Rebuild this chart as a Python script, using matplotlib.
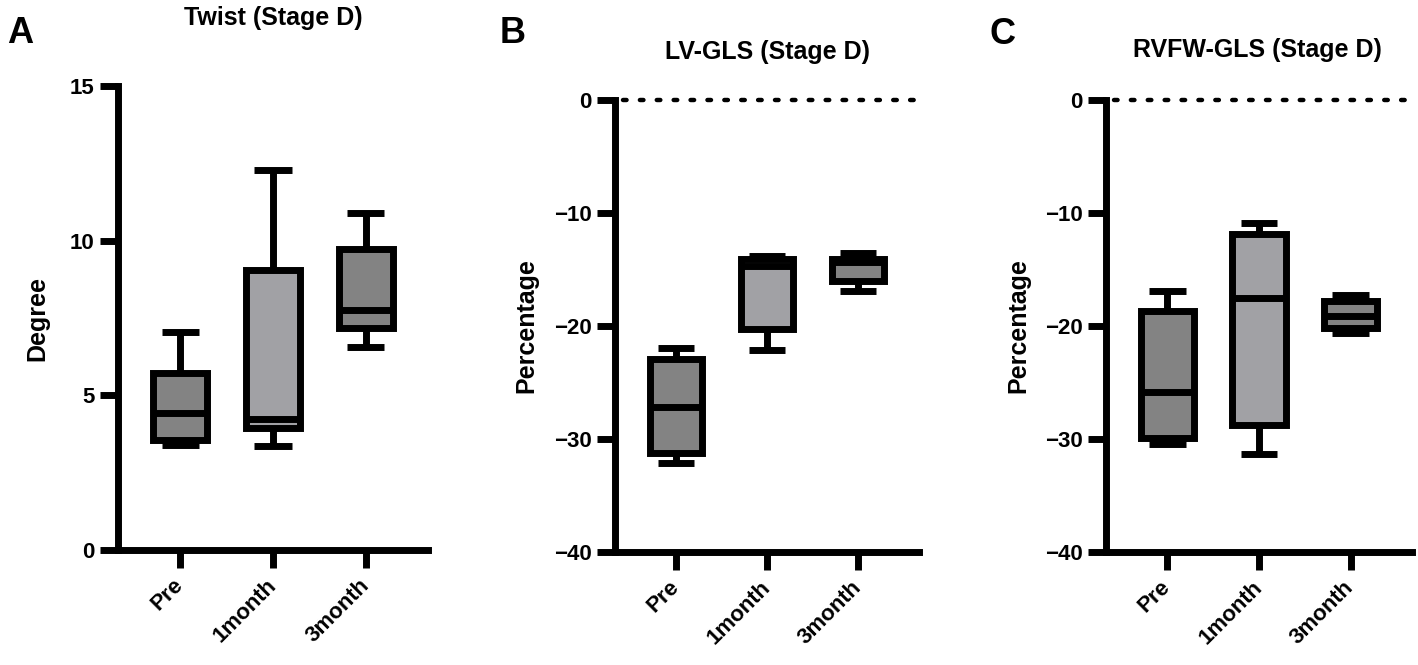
import matplotlib
matplotlib.use("Agg")
import matplotlib.pyplot as plt

plt.rcParams['font.family'] = ['Liberation Sans', 'DejaVu Sans']
plt.rcParams['font.weight'] = 'bold'

groups = ["Pre", "1month", "3month"]
box_colors = ["#838383", "#a1a1a5", "#838383"]

# box summaries: whislo, q1, med, q3, whishi
twist_lo = [3.39, 3.36, 6.55]
twist_q1 = [3.56, 3.94, 7.18]
twist_med = [4.43, 4.23, 7.76]
twist_q3 = [5.72, 9.05, 9.72]
twist_hi = [7.05, 12.3, 10.9]

lvgls_lo = [-32.1, -22.1, -16.9]
lvgls_q1 = [-31.2, -20.26, -16.0]
lvgls_med = [-27.2, -14.7, -14.35]
lvgls_q3 = [-22.9, -14.05, -14.1]
lvgls_hi = [-21.94, -13.76, -13.5]

rvfw_lo = [-30.43, -31.3, -20.6]
rvfw_q1 = [-29.87, -28.75, -20.15]
rvfw_med = [-25.87, -17.5, -19.1]
rvfw_q3 = [-18.65, -11.85, -17.77]
rvfw_hi = [-16.9, -10.92, -17.24]

LW = 5


def make_stats(lo, q1, med, q3, hi):
    return [dict(whislo=a, q1=b, med=c, q3=d, whishi=e, fliers=[])
            for a, b, c, d, e in zip(lo, q1, med, q3, hi)]


def draw_panel(ax, stats, ylim, yticks, ylabel, labx, dotted):
    bp = ax.bxp(stats, positions=[0, 1, 2], widths=0.58, capwidths=0.4,
                patch_artist=True, showfliers=False,
                boxprops=dict(edgecolor='black', linewidth=LW, joinstyle='miter'),
                medianprops=dict(color='black', linewidth=LW, solid_capstyle='butt'),
                whiskerprops=dict(color='black', linewidth=LW, solid_capstyle='butt'),
                capprops=dict(color='black', linewidth=LW, solid_capstyle='butt'))
    for patch, c in zip(bp['boxes'], box_colors):
        patch.set_facecolor(c)
    ax.set_xlim(-0.67, 2.67)
    ax.set_ylim(*ylim)
    ax.set_yticks(yticks)
    ax.set_xticks([0, 1, 2])
    ax.set_xticklabels(groups, rotation=45, ha='right', rotation_mode='anchor',
                       va='center')
    for s in ['top', 'right']:
        ax.spines[s].set_visible(False)
    for s in ['left', 'bottom']:
        ax.spines[s].set_linewidth(LW)
        ax.spines[s].set_capstyle('projecting')
    ax.tick_params(axis='both', direction='out', length=13, width=LW,
                   labelsize=16)
    ax.tick_params(axis='x', pad=10)
    ax.tick_params(axis='y', pad=4)
    ax.set_ylabel(ylabel, fontsize=18, fontweight='bold', va='center')
    ax.yaxis.set_label_coords(labx, 0.5)
    if dotted:
        ax.axhline(0, color='black', linewidth=3.2,
                   linestyle=(2, (0.8, 3.0)), dash_capstyle='round',
                   clip_on=False, zorder=0)


fig = plt.figure(figsize=(14.18, 6.65), dpi=100)
axA = fig.add_axes([0.0832, 0.1729, 0.2186, 0.6977])
axB = fig.add_axes([0.4337, 0.1699, 0.2144, 0.6797])
axC = fig.add_axes([0.7800, 0.1699, 0.2158, 0.6797])

draw_panel(axA, make_stats(twist_lo, twist_q1, twist_med, twist_q3, twist_hi),
           (0, 15), [0, 5, 10, 15], "Degree", -0.26, False)
draw_panel(axB, make_stats(lvgls_lo, lvgls_q1, lvgls_med, lvgls_q3, lvgls_hi),
           (-40, 0), [0, -10, -20, -30, -40], "Percentage", -0.29, True)
draw_panel(axC, make_stats(rvfw_lo, rvfw_q1, rvfw_med, rvfw_q3, rvfw_hi),
           (-40, 0), [0, -10, -20, -30, -40], "Percentage", -0.285, True)

fig.text(0.1925, 0.973, "Twist (Stage D)", ha='center', va='center',
         fontsize=18, fontweight='bold')
fig.text(0.541, 0.922, "LV-GLS (Stage D)", ha='center', va='center',
         fontsize=18, fontweight='bold')
fig.text(0.887, 0.925, "RVFW-GLS (Stage D)", ha='center', va='center',
         fontsize=18, fontweight='bold')

fig.text(0.005, 0.950, "A", ha='left', va='center', fontsize=26, fontweight='bold')
fig.text(0.3526, 0.950, "B", ha='left', va='center', fontsize=26, fontweight='bold')
fig.text(0.698, 0.948, "C", ha='left', va='center', fontsize=26, fontweight='bold')

fig.savefig("out.png", dpi=100)
